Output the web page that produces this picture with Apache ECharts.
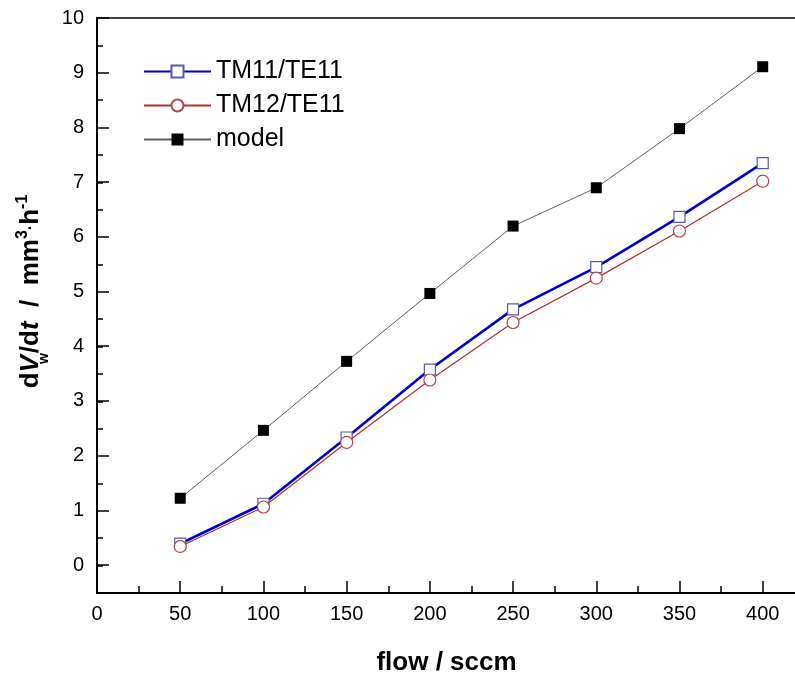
<!DOCTYPE html>
<html>
<head>
<meta charset="utf-8">
<script src="https://cdn.jsdelivr.net/npm/echarts@6/dist/echarts.min.js"></script>
<style>html,body{margin:0;padding:0;background:#fff}#c{width:795px;height:675px}</style>
</head>
<body>
<div id="c"></div>
<script>
const flow = [50, 100, 150, 200, 250, 300, 350, 400];
const tm11 = [0.40, 1.13, 2.34, 3.58, 4.68, 5.45, 6.37, 7.35];
const tm12 = [0.35, 1.07, 2.25, 3.39, 4.44, 5.25, 6.11, 7.02];
const model = [1.23, 2.47, 3.73, 4.97, 6.20, 6.90, 7.98, 9.11];
const xTicks = [0, 50, 100, 150, 200, 250, 300, 350, 400];
const yTicks = [0, 1, 2, 3, 4, 5, 6, 7, 8, 9, 10];

const FONT = 'Liberation Sans, Arial, sans-serif';
const pairs = arr => flow.map((f, i) => [f, arr[i]]);

const chart = echarts.init(document.getElementById('c'), null, {renderer: 'canvas'});
chart.setOption({
  animation: false,
  backgroundColor: '#fff',
  textStyle: {fontFamily: FONT},
  grid: [
    {left: 97, right: -1, top: 18, bottom: 82, show: true, borderColor: '#000', borderWidth: 1.5,
     backgroundColor: 'transparent', outerBoundsMode: 'none', containLabel: false},
    {left: 97, right: -1, top: 18, bottom: 110, show: false, outerBoundsMode: 'none', containLabel: false}
  ],
  legend: {
    orient: 'vertical', left: 138, top: 54, itemWidth: 67, itemHeight: 15, itemGap: 9,
    textStyle: {fontSize: 25, color: '#000', fontFamily: FONT},
    data: ['TM11/TE11', 'TM12/TE11', 'model']
  },
  xAxis: [
    {
      type: 'value', gridIndex: 0, min: 0, max: 420, interval: 50,
      axisLine: {onZero: false, lineStyle: {color: '#000', width: 2}},
      axisTick: {inside: true, length: 12, lineStyle: {color: '#000', width: 1.5}},
      minorTick: {show: true, splitNumber: 2, length: 7, lineStyle: {color: '#000', width: 1.5}},
      splitLine: {show: false},
      axisLabel: {fontSize: 20, color: '#000', margin: 11, fontFamily: FONT,
        formatter: v => (xTicks.indexOf(v) >= 0 ? String(v) : '')},
      name: 'flow / sccm', nameLocation: 'middle', nameGap: 57,
      nameTextStyle: {fontSize: 26, fontWeight: 'bold', color: '#000', fontFamily: FONT}
    },
    {type: 'value', gridIndex: 1, min: 0, max: 420, show: false}
  ],
  yAxis: [
    {
      type: 'value', gridIndex: 0, min: -0.5, max: 10, interval: 0.5,
      axisLine: {show: true, onZero: false, lineStyle: {color: '#000', width: 2}},
      axisTick: {inside: true, length: 6, lineStyle: {color: '#000', width: 1.5}},
      axisLabel: {show: false},
      splitLine: {show: false}
    },
    {
      type: 'value', gridIndex: 1, min: 0, max: 10, interval: 1,
      axisLine: {show: false, onZero: false},
      axisTick: {inside: true, length: 12, lineStyle: {color: '#000', width: 1.5}},
      axisLabel: {fontSize: 20, color: '#000', margin: 13, fontFamily: FONT,
        formatter: v => (yTicks.indexOf(v) >= 0 ? String(v) : '')},
      splitLine: {show: false},
      name: '{b|d}{bi|V}{sub|w}{b|/d}{bi|t}{b|  /  mm}{sup|3}{dot|·}{b|h}{sup|-1}',
      nameLocation: 'middle', nameGap: 45, nameRotate: 90,
      nameTextStyle: {
        color: '#000', fontFamily: FONT, fontSize: 26, fontWeight: 'bold',
        rich: {
          b: {fontSize: 26, fontWeight: 'bold', color: '#000', fontFamily: FONT, lineHeight: 32},
          bi: {fontSize: 26, fontWeight: 'bold', fontStyle: 'italic', color: '#000', fontFamily: FONT, lineHeight: 32},
          sub: {fontSize: 14, color: '#000', fontFamily: FONT, verticalAlign: 'bottom', lineHeight: 32, padding: [0, 0, -4, -9]},
          sup: {fontSize: 16, fontWeight: 'bold', color: '#000', fontFamily: FONT, verticalAlign: 'top', lineHeight: 32},
          dot: {fontSize: 16, fontWeight: 'bold', color: '#000', fontFamily: FONT, lineHeight: 32}
        }
      }
    }
  ],
  series: [
    {
      name: 'TM11/TE11', type: 'line', xAxisIndex: 0, yAxisIndex: 0, z: 3,
      data: pairs(tm11), symbol: 'rect', symbolSize: 11, showAllSymbol: true,
      lineStyle: {color: '#0000CC', width: 2.6},
      itemStyle: {color: '#fff', borderColor: '#5858A8', borderWidth: 1.2}
    },
    {
      name: 'TM12/TE11', type: 'line', xAxisIndex: 0, yAxisIndex: 0, z: 4,
      data: pairs(tm12), symbol: 'circle', symbolSize: 12, showAllSymbol: true,
      lineStyle: {color: '#B03030', width: 1.2},
      itemStyle: {color: '#fff', borderColor: '#B04848', borderWidth: 1.2}
    },
    {
      name: 'model', type: 'line', xAxisIndex: 0, yAxisIndex: 0, z: 2,
      data: pairs(model), symbol: 'rect', symbolSize: 11, showAllSymbol: true,
      lineStyle: {color: '#606060', width: 1},
      itemStyle: {color: '#000', borderColor: '#000', borderWidth: 0}
    }
  ]
});
</script>
</body>
</html>
